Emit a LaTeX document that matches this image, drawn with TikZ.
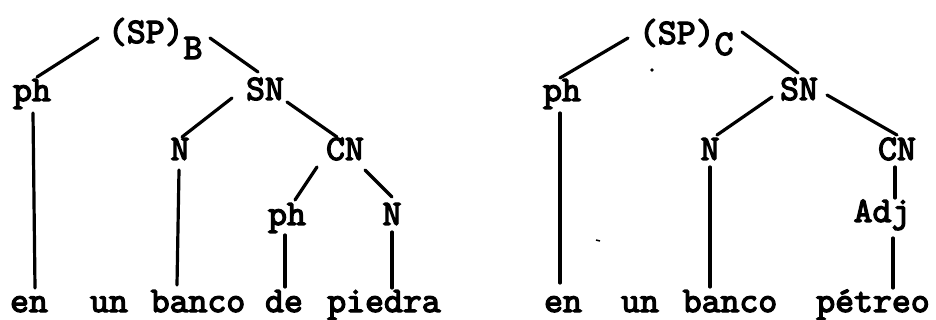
\documentclass[tikz,border=0pt]{standalone}
\usepackage{fontspec}
\newfontfamily\twfont{lmmono10-regular.otf}[FakeBold=3.5]
\newcommand{\lblfont}{\twfont\fontsize{36}{40}\selectfont}
\begin{document}
\begin{tikzpicture}[x=1pt,y=-1pt,
  lab/.style={inner sep=0pt, outer sep=0pt, font=\lblfont, anchor=base},
  labw/.style={lab, anchor=base west},
  edge/.style={line width=3.2pt, line cap=round}]
\useasboundingbox (0,0) rectangle (936,320);
% ---------- left tree ----------
\node[labw] (spb) at (108,43) {(SP)\raisebox{-16pt}{B}};
\node[lab] (ph1) at (32,101) {ph};
\node[lab] (sn1) at (265,100) {SN};
\node[lab] (n1) at (180,160) {N};
\node[lab] (cn1) at (345,160) {CN};
\node[lab] (ph2) at (287,225) {ph};
\node[lab] (n2) at (392,225) {N};
\node[lab] (wen) at (29,312) {en};
\node[lab] (wun) at (109,312) {un};
\node[lab] (wbanco) at (198,312) {banco};
\node[lab] (wde) at (284,312) {de};
\node[lab] (wpiedra) at (384,312) {piedra};
\draw[edge] ([shift={(-10,-5)}]spb.base west) -- ([shift={(5,-24)}]ph1.base);
\draw[edge] ([shift={(102,-5)}]spb.base west) -- ([shift={(-7,-28)}]sn1.base);
\draw[edge] ([shift={(-33,-2)}]sn1.base) -- ([shift={(2,-23)}]n1.base);
\draw[edge] ([shift={(22,2)}]sn1.base) -- ([shift={(-8,-23)}]cn1.base);
\draw[edge] ([shift={(1,12)}]ph1.base) -- ([shift={(6,-24)}]wen.base);
\draw[edge] ([shift={(-1,10)}]n1.base) -- ([shift={(-21,-27)}]wbanco.base);
\draw[edge] ([shift={(-28,7)}]cn1.base) -- ([shift={(8,-25)}]ph2.base);
\draw[edge] ([shift={(20,10)}]cn1.base) -- ([shift={(0,-28)}]n2.base);
\draw[edge] ([shift={(-2,10)}]ph2.base) -- ([shift={(1,-25)}]wde.base);
\draw[edge] ([shift={(0,7)}]n2.base) -- ([shift={(8,-24)}]wpiedra.base);
% ---------- right tree ----------
\node[labw] (spc) at (639,44) {(SP)\raisebox{-11pt}{C}};
\node[lab] (phr) at (562,101) {ph};
\node[lab] (snr) at (799,100) {SN};
\node[lab] (nr) at (710,160) {N};
\node[lab] (cnr) at (897,160) {CN};
\node[lab] (adj) at (882,222) {Adj};
\node[lab] (wen2) at (563,312) {en};
\node[lab] (wun2) at (640,312) {un};
\node[lab] (wbanco2) at (730,312) {banco};
\node[lab] (wpetreo) at (873,312) {pétreo};
\draw[edge] ([shift={(-11,-6)}]spc.base west) -- ([shift={(-2,-23)}]phr.base);
\draw[edge] ([shift={(103,-12)}]spc.base west) -- ([shift={(-1,-27)}]snr.base);
\draw[edge] ([shift={(-27,-3)}]snr.base) -- ([shift={(7,-25)}]nr.base);
\draw[edge] ([shift={(28,-5)}]snr.base) -- ([shift={(0,-25)}]cnr.base);
\draw[edge] ([shift={(-2,12)}]phr.base) -- ([shift={(-3,-29)}]wen2.base);
\draw[edge] ([shift={(0,7)}]nr.base) -- ([shift={(-20,-25)}]wbanco2.base);
\draw[edge] ([shift={(-2,7)}]cnr.base) -- ([shift={(13,-24)}]adj.base);
\draw[edge] ([shift={(11,16)}]adj.base) -- ([shift={(20,-24)}]wpetreo.base);
% small specks of the scan
\fill (652,70) circle (1.8);
\draw[line width=1.5pt] (596,240) -- (600,241);
\end{tikzpicture}
\end{document}
